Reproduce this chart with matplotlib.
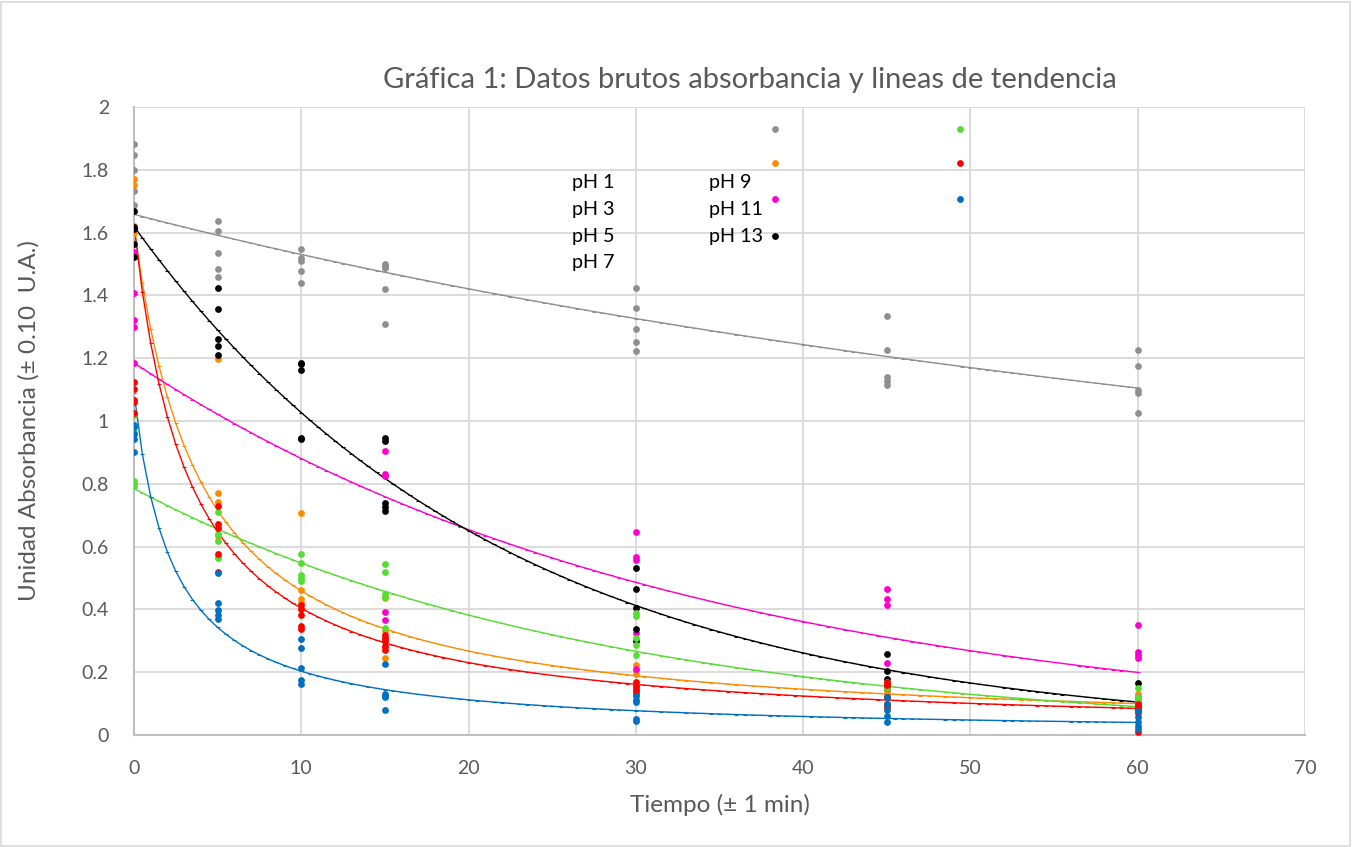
import numpy as np
import matplotlib
matplotlib.use("Agg")
import matplotlib.pyplot as plt
from matplotlib.patches import Rectangle

plt.rcParams['font.family'] = ['Lato', 'DejaVu Sans']

# tiempos de medida (min)
tiempos = [0, 5, 10, 15, 30, 45, 60]
nan = np.nan

# absorbancias leidas, 5 replicas por tiempo
abs_gris = [[1.881, 1.846, 1.80, 1.732, 1.687],
            [1.638, 1.606, 1.536, 1.484, 1.458],
            [1.548, 1.518, 1.51, 1.478, 1.438],
            [1.500, 1.494, 1.486, 1.420, 1.309],
            [1.423, 1.361, 1.293, 1.251, 1.224],
            [1.335, 1.225, 1.14, 1.128, 1.115],
            [1.225, 1.175, 1.10, 1.09, 1.025]]
abs_naranja = [[1.770, 1.752, 1.62, 1.61, 1.60],
               [1.198, 0.770, 0.743, 0.658, 0.635],
               [0.708, 0.462, 0.432, 0.42, 0.400],
               [0.435, 0.33, 0.305, 0.28, 0.245],
               [0.223, 0.207, 0.195, 0.165, 0.155],
               [0.165, 0.155, 0.14, 0.13, 0.12],
               [0.131, 0.11, 0.10, 0.09, 0.085]]
abs_rosa = [[1.538, 1.407, 1.322, 1.300, 1.186],
            [nan, nan, nan, nan, nan],
            [nan, nan, nan, nan, nan],
            [0.905, 0.832, 0.825, 0.392, 0.365],
            [0.648, 0.568, 0.557, 0.326, 0.21],
            [0.466, 0.432, 0.413, 0.23, 0.12],
            [0.350, 0.263, 0.255, 0.246, 0.12]]
abs_negro = [[1.670, 1.619, 1.611, 1.565, 1.523],
             [1.425, 1.357, 1.260, 1.239, 1.210],
             [1.186, 1.182, 1.162, 0.945, 0.942],
             [0.945, 0.935, 0.74, 0.725, 0.712],
             [0.533, 0.464, 0.403, 0.337, 0.300],
             [0.258, 0.205, 0.18, 0.16, 0.15],
             [0.165, 0.10, 0.09, 0.085, 0.08]]
abs_verde = [[1.018, 0.966, 0.81, 0.794, 0.80],
             [0.709, 0.619, 0.568, 0.563, 0.64],
             [0.575, 0.547, 0.51, 0.50, 0.49],
             [0.545, 0.52, 0.45, 0.44, 0.34],
             [0.39, 0.31, 0.287, 0.255, 0.38],
             [0.17, 0.15, 0.12, 0.10, 0.09],
             [0.149, 0.12, 0.11, 0.10, 0.09]]
abs_rojo = [[1.125, 1.101, 1.067, 1.061, 1.026],
            [0.729, 0.672, 0.66, 0.576, 0.520],
            [0.414, 0.382, 0.347, 0.337, 0.40],
            [0.32, 0.31, 0.30, 0.285, 0.27],
            [0.17, 0.155, 0.145, 0.14, 0.13],
            [0.17, 0.16, 0.12, 0.10, 0.09],
            [0.10, 0.09, 0.08, 0.07, 0.011]]
abs_azul = [[0.987, 0.982, 0.943, 0.902, 0.96],
            [0.515, 0.421, 0.398, 0.382, 0.368],
            [0.305, 0.276, 0.213, 0.175, 0.163],
            [0.225, 0.13, 0.125, 0.12, 0.08],
            [0.125, 0.11, 0.105, 0.05, 0.045],
            [0.12, 0.10, 0.08, 0.06, 0.04],
            [0.075, 0.058, 0.043, 0.03, 0.02]]

series = [abs_gris, abs_naranja, abs_rosa, abs_negro, abs_verde, abs_rojo, abs_azul]
colores = ['#8f8f8f', '#ff8c00', '#ff00cc', '#000000', '#55dd33', '#ff0000', '#0070c0']

# lineas de tendencia: orden (1 = primer orden, 2 = segundo orden), A0, k
orden = [2, 2, 1, 1, 1, 2, 2]
a0 = [1.658, 1.62, 1.185, 1.62, 0.785, 1.625, 1.09]
kk = [0.00503, 0.156, 0.0297, 0.0456, 0.036, 0.186, 0.40]

# leyenda (como aparece en la grafica)
ley_textos = ['pH 1', 'pH 3', 'pH 5', 'pH 7', 'pH 9', 'pH 11', 'pH 13']
ley_tx = [26.2, 26.2, 26.2, 26.2, 34.4, 34.4, 34.4]
ley_ty = [1.761, 1.675, 1.589, 1.506, 1.761, 1.675, 1.589]
ley_mx = [38.3, 38.3, 38.3, 38.3, 49.4, 49.4, 49.4]
ley_my = [1.93, 1.822, 1.707, 1.589, 1.93, 1.822, 1.707]

fig = plt.figure(figsize=(13.53, 8.47), dpi=100)
ax = fig.add_axes([0.099, 0.1322, 0.8655, 0.7415])
fig.patches.append(Rectangle((0.001, 0.001), 0.997, 0.997, transform=fig.transFigure,
                             fill=False, edgecolor='#d9d9d9', linewidth=1.2))

t_fino = np.arange(0, 60.01, 0.5)
for datos, c, o, A, k in zip(series, colores, orden, a0, kk):
    datos = np.array(datos, dtype=float)
    for i, t in enumerate(tiempos):
        ax.scatter([t] * datos.shape[1], datos[i], s=24, color=c, zorder=3, linewidths=0)
    if o == 1:
        y = A * np.exp(-k * t_fino)
    else:
        y = 1.0 / (1.0 / A + k * t_fino)
    ax.plot(t_fino, y, color=c, lw=1.0, marker='_', ms=3, mew=0.8, zorder=2)

for txt, x, y in zip(ley_textos, ley_tx, ley_ty):
    ax.text(x, y, txt, fontsize=14.2, color='black', va='center', ha='left')
for x, y, c in zip(ley_mx, ley_my, colores):
    ax.scatter([x], [y], s=24, color=c, zorder=3, linewidths=0)

ax.set_xlim(0, 70)
ax.set_ylim(0, 2)
ax.set_xticks(range(0, 71, 10))
ax.set_yticks(np.arange(0, 2.01, 0.2))
ax.set_yticklabels(['0', '0.2', '0.4', '0.6', '0.8', '1', '1.2', '1.4', '1.6', '1.8', '2'])
ax.grid(True, color='#d9d9d9', lw=1.3)
ax.set_axisbelow(True)
ax.tick_params(length=0, labelsize=14, colors='#595959')
ax.tick_params(axis='y', pad=18)
ax.tick_params(axis='x', pad=18)
for s in ['top', 'right']:
    ax.spines[s].set_visible(False)
for s in ['left', 'bottom']:
    ax.spines[s].set_color('#bfbfbf')
    ax.spines[s].set_linewidth(1.5)

ax.set_xlabel('Tiempo (± 1 min)', fontsize=17.5, color='#595959', labelpad=12)
ax.set_ylabel('Unidad Absorbancia (± 0.10  U.A.)', fontsize=17.5, color='#595959', labelpad=30)
fig.text(0.554, 0.906, 'Gráfica 1: Datos brutos absorbancia y lineas de tendencia',
         ha='center', va='center', fontsize=21, color='#595959')

fig.savefig('out.png', dpi=100)
